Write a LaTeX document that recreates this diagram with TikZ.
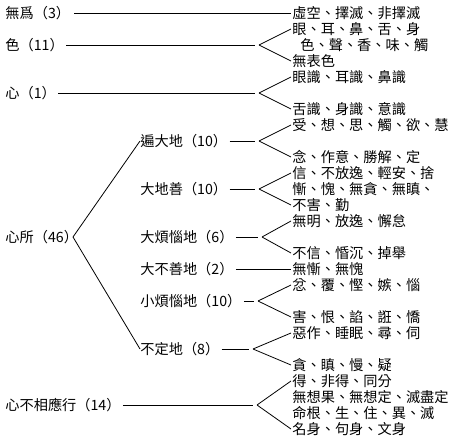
\documentclass[tikz,border=0pt]{standalone}
\usepackage{fontspec}
\newfontfamily\cjk{Noto Sans CJK TC}

\tikzset{
	lbl/.style={anchor=west, inner sep=0pt, font=\cjk\fontsize{14.2}{16}\selectfont},
	item/.style={anchor=west, inner sep=1pt, font=\cjk\fontsize{14.2}{16}\selectfont},
	gap/.style={shorten <=2pt, shorten >=4pt}
}

\begin{document}
\begin{tikzpicture}[x=1pt, y=-1pt, line width=0.8pt]
		
		\useasboundingbox (0,0) rectangle (452,438);
		
		% left column
		\node[lbl] (wuwei) at (5,13) {無爲（3）};
		\node[lbl] (se) at (5,45) {色（11）};
		\node[lbl] (xin) at (5,93) {心（1）};
		\node[lbl] (xinsuo) at (5,237) {心所（46）};
		\node[lbl] (buxiangying) at (5,405) {心不相應行（14）};
		
		% middle column
		\node[lbl] (bianda) at (140,141) {遍大地（10）};
		\node[lbl] (dashan) at (140,189) {大地善（10）};
		\node[lbl] (dafannao) at (140,237) {大煩惱地（6）};
		\node[lbl] (dabushan) at (140,269) {大不善地（2）};
		\node[lbl] (xiaofannao) at (140,301) {小煩惱地（10）};
		\node[lbl] (buding) at (140,349) {不定地（8）};
		
		% right column
		\node[item] (wuwei1) at (291,13) {虛空、擇滅、非擇滅};
		\node[item] (se1) at (291,29) {眼、耳、鼻、舌、身};
		\node[item] (se2) at (299,45) {色、聲、香、味、觸};
		\node[item] (se3) at (291,61) {無表色};
		\node[item] (xin1) at (291,77) {眼識、耳識、鼻識};
		\node[item] (xin2) at (291,109) {舌識、身識、意識};
		\node[item] (bianda1) at (291,125) {受、想、思、觸、欲、慧};
		\node[item] (bianda2) at (291,157) {念、作意、勝解、定};
		\node[item] (dashan1) at (291,173) {信、不放逸、輕安、捨};
		\node[item] (dashan2) at (291,189) {慚、愧、無貪、無瞋、};
		\node[item] (dashan3) at (291,205) {不害、勤};
		\node[item] (dafannao1) at (291,221) {無明、放逸、懈怠};
		\node[item] (dafannao2) at (291,253) {不信、惛沉、掉舉};
		\node[item] (dabushan1) at (291,269) {無慚、無愧};
		\node[item] (xiaofannao1) at (291,285) {忿、覆、慳、嫉、惱};
		\node[item] (xiaofannao2) at (291,317) {害、恨、諂、誑、憍};
		\node[item] (buding1) at (291,333) {惡作、睡眠、尋、伺};
		\node[item] (buding2) at (291,365) {貪、瞋、慢、疑};
		\node[item] (buxiangying1) at (291,381) {得、非得、同分};
		\node[item] (buxiangying2) at (291,397) {無想果、無想定、滅盡定};
		\node[item] (buxiangying3) at (291,413) {命根、生、住、異、滅};
		\node[item] (buxiangying4) at (291,429) {名身、句身、文身};
		
		% fork points
		\coordinate (sef) at (259,45);
		\coordinate (xinf) at (259,93);
		\coordinate (xinsuof) at (73,237);
		\coordinate (biandaf) at (259,141);
		\coordinate (dashanf) at (259,189);
		\coordinate (dafannaof) at (262,237);
		\coordinate (xiaofannaof) at (258,301);
		\coordinate (budingf) at (253,349);
		\coordinate (buxiangyingf) at (257,405);
		
		\draw
		(wuwei) edge[shorten <=4pt] (wuwei1)
		(se) edge[gap] (sef)
		(sef) edge (se1.west)
		(sef) edge (se3.west)
		(xin) edge[gap] (xinf)
		(xinf) edge (xin1.west)
		(xinf) edge (xin2.west)
		(xinsuof) edge (bianda.west)
		(xinsuof) edge (buding.west)
		(bianda) edge[gap] (biandaf)
		(biandaf) edge (bianda1.west)
		(biandaf) edge (bianda2.west)
		(dashan) edge[gap] (dashanf)
		(dashanf) edge (dashan1.west)
		(dashanf) edge (dashan3.west)
		(dafannao) edge[gap] (dafannaof)
		(dafannaof) edge (dafannao1.west)
		(dafannaof) edge (dafannao2.west)
		(dabushan) edge[shorten <=2pt] (dabushan1)
		(xiaofannao) edge[gap] (xiaofannaof)
		(xiaofannaof) edge (xiaofannao1.west)
		(xiaofannaof) edge (xiaofannao2.west)
		(buding) edge[gap] (budingf)
		(budingf) edge (buding1.west)
		(budingf) edge (buding2.west)
		(buxiangying) edge[gap] (buxiangyingf)
		(buxiangyingf) edge (buxiangying1.west)
		(buxiangyingf) edge (buxiangying4.west);
		
		\end{tikzpicture}
\end{document}
